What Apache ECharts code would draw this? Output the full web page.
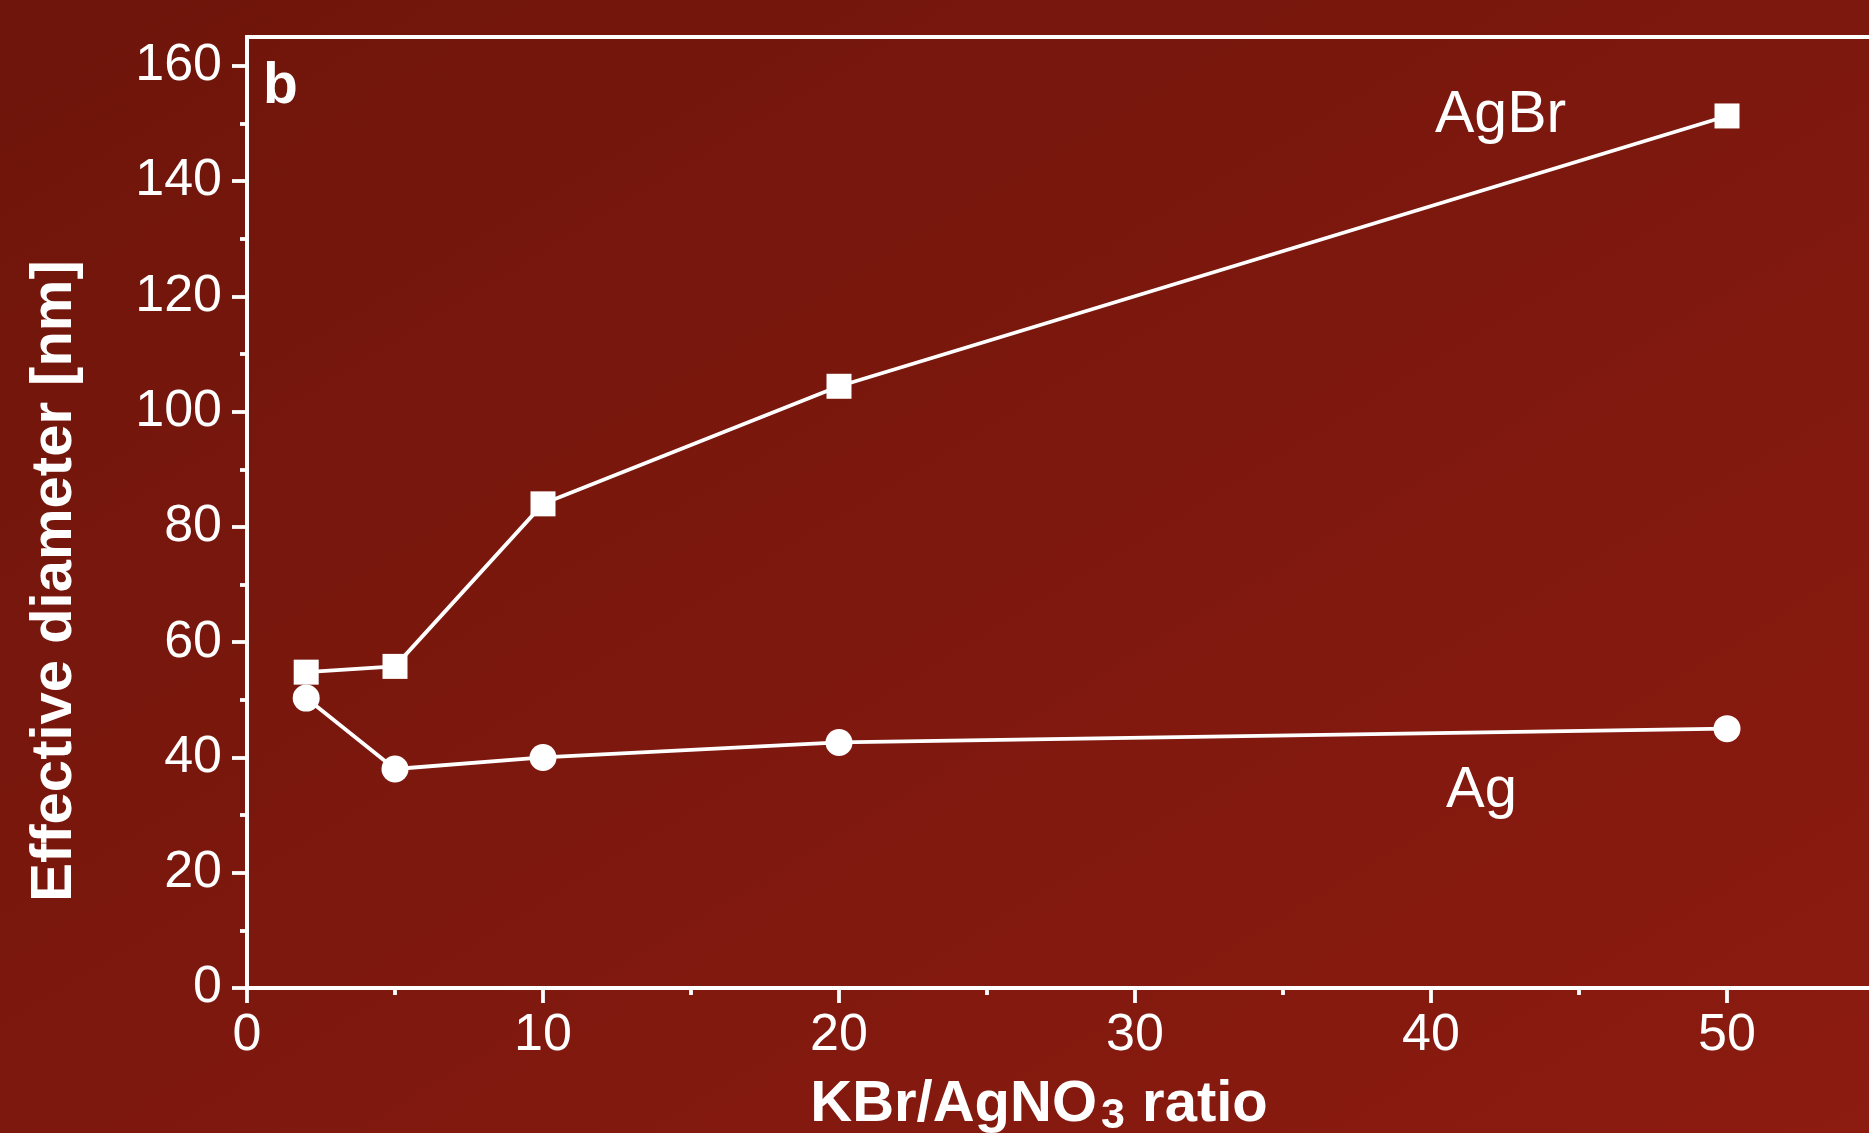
<!DOCTYPE html>
<html>
<head>
<meta charset="utf-8">
<script src="https://cdn.jsdelivr.net/npm/echarts@6/dist/echarts.min.js"></script>
<style>
html,body{margin:0;padding:0;overflow:hidden;}
#c{width:1869px;height:1133px;background:linear-gradient(to bottom right,#6f150b 0%,#7d180e 50%,#8c1b10 100%);}
</style>
</head>
<body>
<div id="c"></div>
<script>
// ---- data ----
const xRatio = [2, 5, 10, 20, 50];
const agbrDiameter = [54.8, 55.8, 84.0, 104.4, 151.3];
const agDiameter = [50.3, 38.0, 40.0, 42.6, 45.0];
const xMajorTicks = [0, 10, 20, 30, 40, 50];
const xMinorTicks = [5, 15, 25, 35, 45];
const yMajorTicks = [0, 20, 40, 60, 80, 100, 120, 140, 160];
const yMinorTicks = [10, 30, 50, 70, 90, 110, 130, 150];
const seriesNames = ['AgBr', 'Ag'];
const panelLetter = 'b';
const yAxisTitle = 'Effective diameter [nm]';

const FONT = '"Liberation Sans", Arial, Helvetica, sans-serif';
const WHITE = '#ffffff';
const LW = 3.8;

const chart = echarts.init(document.getElementById('c'), null, {renderer: 'canvas'});

function pairs(xs, ys) { return xs.map((x, i) => [x, ys[i]]); }

const axisCommon = {
  type: 'value',
  splitLine: {show: false},
  axisLine: {show: true, onZero: false, lineStyle: {color: WHITE, width: LW}}
};

const option = {
  backgroundColor: 'transparent',
  animation: false,
  grid: {
    left: 247, top: 37, width: 1628, height: 951,
    show: true, borderColor: WHITE, borderWidth: LW, backgroundColor: 'transparent',
    containLabel: false, outerBoundsMode: 'none'
  },
  xAxis: [
    Object.assign({}, axisCommon, {
      min: 0, max: 55, position: 'bottom',
      axisTick: {show: true, customValues: xMajorTicks, length: 15, lineStyle: {color: WHITE, width: LW}},
      axisLabel: {customValues: xMajorTicks, color: WHITE, fontSize: 52, fontFamily: FONT, margin: 22}
    }),
    Object.assign({}, axisCommon, {
      min: 0, max: 55, position: 'bottom', offset: 0,
      axisLine: {show: false},
      axisTick: {show: true, customValues: xMinorTicks, length: 7, lineStyle: {color: WHITE, width: LW}},
      axisLabel: {show: false}
    })
  ],
  yAxis: [
    Object.assign({}, axisCommon, {
      min: 0, max: 165, position: 'left',
      axisTick: {show: true, customValues: yMajorTicks, length: 15, lineStyle: {color: WHITE, width: LW}},
      axisLabel: {customValues: yMajorTicks, color: WHITE, fontSize: 52, fontFamily: FONT, margin: 25, padding: [0, 0, 8, 0]}
    }),
    Object.assign({}, axisCommon, {
      min: 0, max: 165, position: 'left', offset: 0,
      axisLine: {show: false},
      axisTick: {show: true, customValues: yMinorTicks, length: 7, lineStyle: {color: WHITE, width: LW}},
      axisLabel: {show: false}
    })
  ],
  series: [
    {
      name: seriesNames[0], type: 'line', xAxisIndex: 0, yAxisIndex: 0,
      data: pairs(xRatio, agbrDiameter),
      symbol: 'rect', symbolSize: 25, showSymbol: true,
      lineStyle: {color: WHITE, width: LW}, itemStyle: {color: WHITE, opacity: 1},
      emphasis: {disabled: true}
    },
    {
      name: seriesNames[1], type: 'line', xAxisIndex: 0, yAxisIndex: 0,
      data: pairs(xRatio, agDiameter),
      symbol: 'circle', symbolSize: 27, showSymbol: true,
      lineStyle: {color: WHITE, width: LW}, itemStyle: {color: WHITE, opacity: 1},
      emphasis: {disabled: true}
    }
  ],
  graphic: [
    {
      type: 'text', x: 263, y: 87,
      style: {text: panelLetter, fill: WHITE, font: 'bold 57px ' + FONT, align: 'left', verticalAlign: 'middle'}
    },
    {
      type: 'text', x: 1435, y: 116,
      style: {text: seriesNames[0], fill: WHITE, font: '59px ' + FONT, align: 'left', verticalAlign: 'middle'}
    },
    {
      type: 'text', x: 1446, y: 791,
      style: {text: seriesNames[1], fill: WHITE, font: '58px ' + FONT, align: 'left', verticalAlign: 'middle'}
    },
    {
      type: 'text', x: 55, y: 581, rotation: Math.PI / 2,
      style: {text: yAxisTitle, fill: WHITE, font: 'bold 58px ' + FONT, align: 'center', verticalAlign: 'middle'}
    },
    {
      type: 'text', x: 1039, y: 1105,
      style: {
        text: '{a|KBr/AgNO}{s|3}{a| ratio}',
        align: 'center', verticalAlign: 'middle',
        rich: {
          a: {fill: WHITE, color: WHITE, fontSize: 58, fontWeight: 'bold', fontFamily: FONT, lineHeight: 66},
          s: {fill: WHITE, color: WHITE, fontSize: 43, fontWeight: 'bold', fontFamily: FONT, lineHeight: 26, verticalAlign: 'bottom', padding: [0, 1, 0, 4]}
        }
      }
    }
  ]
};
chart.setOption(option);
</script>
</body>
</html>
